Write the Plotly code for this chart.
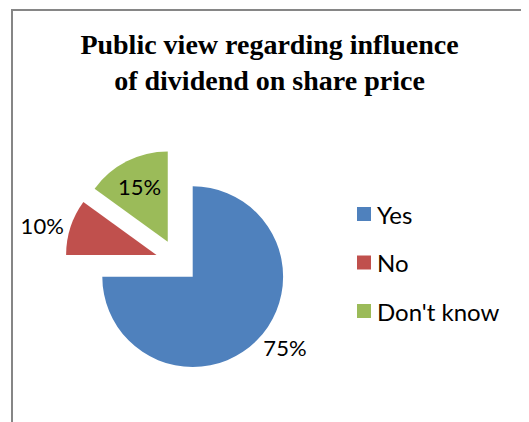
import plotly.graph_objects as go

W, H = 529, 422
OFF = 8  # page body offset of the rendered figure

labels = ["Yes", "No", "Don't know"]
values = [75, 10, 15]
colors = ["#4F81BD", "#C0504D", "#9BBB59"]
pulls = [0.23, 0.25, 0.25]
text_positions = ["outside", "outside", "inside"]
title_lines = ["Public view regarding influence", "of dividend on share price"]

LABEL_FONT = "Lato, 'Open Sans', sans-serif"


def px(x):
    return (x - OFF) / W


def py(y):
    return 1 - (y - OFF) / H


# pie geometry (target screen pixels)
cx, cy, r_out = 178, 262, 113

fig = go.Figure()
fig.add_trace(go.Pie(
    labels=labels, values=values, sort=False, direction="clockwise", rotation=0,
    marker=dict(colors=colors, line=dict(width=0)),
    pull=pulls,
    texttemplate="%{percent:.0%}",
    textposition=text_positions,
    textfont=dict(family=LABEL_FONT, size=22, color="#000000"),
    insidetextfont=dict(family=LABEL_FONT, size=22, color="#000000"),
    outsidetextfont=dict(family=LABEL_FONT, size=22, color="#000000"),
    domain=dict(x=[px(cx - r_out), px(cx + r_out)],
                y=[py(cy + r_out), py(cy - r_out)]),
    showlegend=False, hoverinfo="label+percent",
))

# legend drawn manually to match spacing
leg_x0, leg_y0, leg_dy, sq = 357, 214, 48.5, 14
for i, (lab, col) in enumerate(zip(labels, colors)):
    yc = leg_y0 + i * leg_dy
    fig.add_shape(type="rect", xref="paper", yref="paper",
                  x0=px(leg_x0), x1=px(leg_x0 + sq),
                  y0=py(yc + sq / 2), y1=py(yc - sq / 2),
                  fillcolor=col, line=dict(width=0))
    fig.add_annotation(xref="paper", yref="paper", x=px(leg_x0 + sq + 4), y=py(yc),
                       text=lab, showarrow=False, xanchor="left", yanchor="middle",
                       font=dict(family=LABEL_FONT, size=24, color="#000000"))

# chart border (top and left edges visible in the crop)
BORDER = "#868686"
fig.add_shape(type="rect", xref="paper", yref="paper", layer="above",
              x0=px(11), x1=px(13), y0=0, y1=py(9),
              fillcolor=BORDER, line=dict(width=0))
# top edge, drawn in a few segments
for a, b in [(11, 140), (140, 270), (270, 400), (400, 537)]:
    fig.add_shape(type="line", xref="paper", yref="paper", layer="above",
                  x0=px(a), x1=px(b), y0=py(10), y1=py(10),
                  line=dict(color=BORDER, width=2))

fig.update_layout(
    width=W, height=H,
    margin=dict(l=0, r=0, t=0, b=0, autoexpand=False),
    paper_bgcolor="white", plot_bgcolor="white",
    title=dict(text="<b>" + "<br>".join(title_lines) + "</b>",
               x=px(269.5), xanchor="center", y=py(54), yanchor="top",
               font=dict(family="'Liberation Serif', 'Times New Roman', serif", size=28, color="#000000")),
)

fig.write_html("out.html", config={"displayModeBar": False})
